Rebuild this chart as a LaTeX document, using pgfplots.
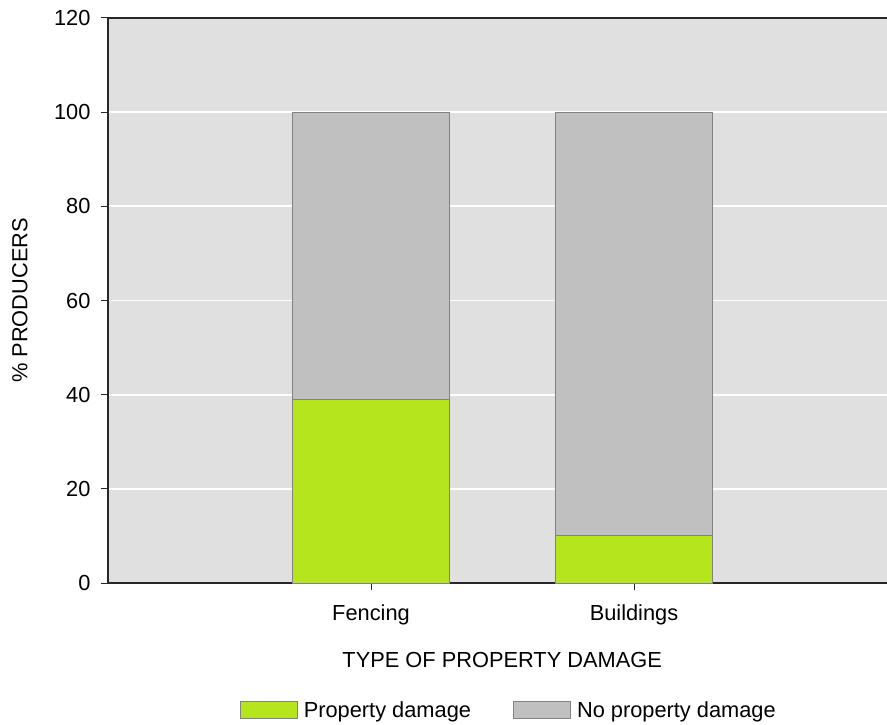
\documentclass[border=0pt]{standalone}
\usepackage{pgfplots}
\pgfplotsset{compat=1.18}
\usepackage{fontspec}
\setmainfont{Liberation Sans}
\definecolor{plotbg}{RGB}{224,224,224}
\definecolor{dmg}{RGB}{181,230,29}
\definecolor{nodmg}{RGB}{192,192,192}
\definecolor{edge}{RGB}{130,130,130}
\definecolor{axline}{RGB}{40,40,40}
\begin{document}
\begin{tikzpicture}[font=\fontsize{21.8bp}{25bp}\selectfont]
\path[use as bounding box] (-108bp,-142bp) rectangle (779bp,583bp);
\begin{axis}[
  at={(0,0)}, anchor=south west,
  scale only axis, width=779bp, height=565bp,
  xmin=0, xmax=2.962, ymin=0, ymax=120,
  ybar stacked, bar width=0.6,
  xtick={1,2}, xticklabels={Fencing,Buildings},
  ytick={0,20,...,120},
  /pgf/number format/assume math mode=true,
  axis x line*=bottom, axis y line*=left,
  axis line style={axline, line width=1.3bp},
  tick align=outside, major tick length=7bp,
  tick style={axline, line width=1bp},
  yticklabel style={xshift=-7bp},
  xticklabel style={yshift=-11bp},
  ymajorgrids, grid style={white, line width=1.8bp},
  axis background/.style={fill=plotbg},
  ylabel={\% PRODUCERS},
  ylabel style={at={(axis description cs:-0.113,0.5)}, anchor=center},
  xlabel={TYPE OF PROPERTY DAMAGE},
  xlabel style={at={(axis description cs:0.506,-0.136)}, anchor=center},
  legend style={at={(axis description cs:0.5145,-0.225)}, anchor=center,
    draw=none, fill=none, legend columns=2,
    /tikz/every odd column/.append style={column sep=4bp},
    /tikz/every even column/.append style={column sep=40bp}},
  legend image code/.code={\draw[#1] (0bp,-8bp) rectangle (57bp,9bp);},
]
\addplot[fill=dmg, draw=edge, line width=1bp] coordinates {(1,39) (2,10)};
\addplot[fill=nodmg, draw=edge, line width=1bp] coordinates {(1,61) (2,90)};
\legend{Property damage, No property damage}
\draw[axline, line width=1.5bp] (rel axis cs:0,1) -- (rel axis cs:1,1);
\end{axis}
\end{tikzpicture}
\end{document}
